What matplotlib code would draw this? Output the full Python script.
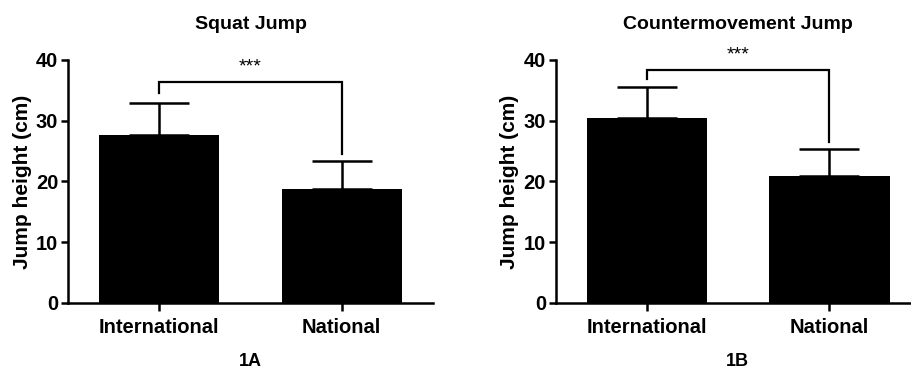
import numpy as np
import matplotlib.pyplot as plt

plt.rcParams['font.family'] = ['Liberation Sans', 'DejaVu Sans']
plt.rcParams['font.weight'] = 'bold'

groups = ['International', 'National']

# squat jump (1A)
sj_mean = [27.7, 18.8]
sj_sd = [5.3, 4.6]

# countermovement jump (1B)
cmj_mean = [30.5, 20.9]
cmj_sd = [5.1, 4.4]

titles = ['Squat Jump', 'Countermovement Jump']
panel_labels = ['1A', '1B']
sig = ['***', '***']
# bracket height and the ends of its two legs
bracket_y = [36.3, 38.3]
bracket_legs = [(34.5, 24.5), (36.8, 26.5)]

fig = plt.figure(figsize=(9.11, 3.69), dpi=100)
ax1 = fig.add_axes([0.0746, 0.1789, 0.4007, 0.6585])
ax2 = fig.add_axes([0.6100, 0.1789, 0.4007, 0.6585])

lw = 1.8
for i, (ax, means, sds) in enumerate([(ax1, sj_mean, sj_sd), (ax2, cmj_mean, cmj_sd)]):
    x = np.arange(len(groups))
    ax.bar(x, means, width=0.66, color='black', zorder=2)
    ax.errorbar(x, means, yerr=[np.zeros(len(sds)), sds], fmt='none', ecolor='black',
                elinewidth=lw, capsize=21.6, capthick=lw, zorder=3)

    # significance bracket
    yb = bracket_y[i]
    l0, l1 = bracket_legs[i]
    ax.plot([x[0], x[0], x[1], x[1]], [l0, yb, yb, l1], color='black', lw=1.6,
            solid_joinstyle='miter', clip_on=False)
    ax.text((x[0] + x[1]) / 2, yb + 1.2, sig[i], ha='center', va='bottom',
            fontsize=14, fontweight='normal')

    ax.set_xlim(-0.5, 1.5)
    ax.set_ylim(0, 40)
    ax.set_yticks([0, 10, 20, 30, 40])
    ax.set_xticks(x)
    ax.set_xticklabels(groups, fontsize=14.5, fontweight='bold')
    ax.tick_params(axis='y', labelsize=14.5, width=lw, length=5, pad=2)
    ax.tick_params(axis='x', width=lw, length=6, pad=5)
    for t in ax.get_yticklabels():
        t.set_fontweight('bold')
    ax.spines['top'].set_visible(False)
    ax.spines['right'].set_visible(False)
    ax.spines['left'].set_linewidth(lw)
    ax.spines['bottom'].set_linewidth(lw)
    ax.set_ylabel('Jump height (cm)', fontsize=15, fontweight='bold', labelpad=3)
    ax.set_title(titles[i], fontsize=14, fontweight='bold', pad=22)

fig.text(250 / 911, 1 - 362 / 369, panel_labels[0], ha='center', va='center',
         fontsize=13, fontweight='bold')
fig.text(737 / 911, 1 - 362 / 369, panel_labels[1], ha='center', va='center',
         fontsize=13, fontweight='bold')

fig.savefig('out.png', dpi=100)
